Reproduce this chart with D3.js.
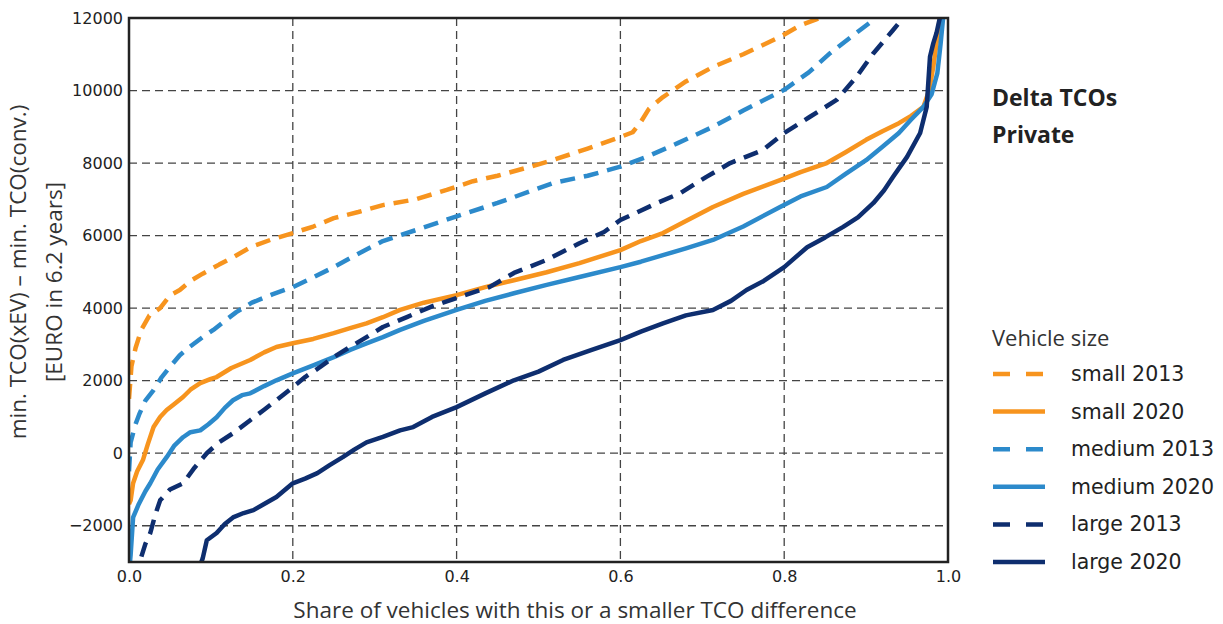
<!DOCTYPE html>
<html>
<head>
<meta charset="utf-8">
<script src="https://cdn.jsdelivr.net/npm/d3@7"></script>
<style>
  body { margin: 0; background: #fff; }
  .tick-label { font-family: "DejaVu Sans", sans-serif; font-size: 16px; fill: #222; }
  .axis-title { font-family: "Open Sans", sans-serif; font-size: 22.5px; fill: #333; }
  .legend-label { font-family: "DejaVu Sans", sans-serif; font-size: 20.5px; fill: #222; }
</style>
</head>
<body>
<div id="chart"></div>
<script>
(function() {
  // data: [share, delta TCO in EUR]
  var small2013 = [[0,1500],[0.003,2400],[0.008,2900],[0.015,3400],[0.025,3800],[0.038,4000],[0.05,4350],[0.062,4500],[0.075,4750],[0.09,4950],[0.11,5200],[0.127,5400],[0.15,5700],[0.175,5900],[0.2,6070],[0.225,6250],[0.25,6480],[0.28,6650],[0.31,6840],[0.35,7000],[0.388,7260],[0.42,7500],[0.45,7650],[0.49,7900],[0.52,8100],[0.56,8400],[0.6,8720],[0.615,8850],[0.624,9100],[0.635,9500],[0.652,9820],[0.68,10250],[0.713,10650],[0.75,11000],[0.795,11480],[0.82,11800],[0.847,12030],[0.87,12300]]
  var small2020 = [[0,-1400],[0.002,-1300],[0.005,-830],[0.01,-500],[0.017,-190],[0.023,250],[0.03,720],[0.038,1000],[0.046,1190],[0.055,1350],[0.066,1550],[0.075,1750],[0.087,1930],[0.1,2050],[0.107,2100],[0.125,2350],[0.148,2570],[0.165,2780],[0.18,2930],[0.2,3030],[0.225,3150],[0.25,3310],[0.27,3450],[0.29,3580],[0.31,3750],[0.331,3950],[0.36,4150],[0.4,4360],[0.435,4580],[0.47,4770],[0.51,4990],[0.55,5240],[0.6,5600],[0.625,5850],[0.652,6070],[0.68,6400],[0.713,6790],[0.75,7150],[0.795,7530],[0.82,7750],[0.852,8000],[0.875,8300],[0.9,8640],[0.92,8880],[0.94,9100],[0.955,9300],[0.97,9550],[0.977,10000],[0.982,10650],[0.986,11300],[0.99,12000],[0.993,12500]]
  var medium2013 = [[0,-500],[0.002,300],[0.008,800],[0.013,1100],[0.02,1450],[0.03,1740],[0.04,2100],[0.05,2380],[0.062,2700],[0.074,2930],[0.09,3200],[0.103,3400],[0.117,3650],[0.131,3890],[0.15,4150],[0.175,4380],[0.2,4580],[0.225,4850],[0.25,5130],[0.28,5500],[0.31,5850],[0.35,6150],[0.4,6530],[0.45,6900],[0.518,7450],[0.56,7650],[0.6,7900],[0.632,8170],[0.67,8550],[0.713,9000],[0.75,9450],[0.8,10020],[0.83,10500],[0.856,11030],[0.88,11450],[0.909,11950],[0.92,12300]]
  var medium2020 = [[0,-3300],[0.002,-2800],[0.005,-1770],[0.012,-1400],[0.02,-1050],[0.026,-830],[0.035,-450],[0.046,-110],[0.055,200],[0.066,440],[0.075,580],[0.087,630],[0.097,800],[0.107,990],[0.117,1250],[0.127,1460],[0.138,1600],[0.148,1650],[0.165,1850],[0.18,2010],[0.2,2200],[0.225,2420],[0.25,2650],[0.27,2850],[0.29,3030],[0.31,3200],[0.331,3400],[0.36,3650],[0.4,3950],[0.435,4200],[0.47,4410],[0.51,4640],[0.55,4860],[0.6,5130],[0.625,5280],[0.652,5460],[0.68,5650],[0.713,5880],[0.75,6250],[0.795,6790],[0.82,7080],[0.852,7340],[0.875,7700],[0.9,8080],[0.92,8450],[0.94,8830],[0.955,9200],[0.97,9550],[0.98,9900],[0.987,10480],[0.991,11300],[0.994,12000],[0.996,12500]]
  var large2013 = [[0.01,-3500],[0.013,-3000],[0.02,-2500],[0.026,-2200],[0.032,-1700],[0.038,-1300],[0.05,-1000],[0.066,-830],[0.08,-400],[0.095,0],[0.11,300],[0.127,550],[0.148,910],[0.165,1200],[0.18,1460],[0.2,1820],[0.215,2100],[0.233,2370],[0.25,2650],[0.27,2930],[0.29,3200],[0.31,3480],[0.34,3760],[0.37,4050],[0.4,4280],[0.44,4580],[0.47,4970],[0.51,5330],[0.55,5790],[0.58,6100],[0.6,6430],[0.645,6900],[0.673,7170],[0.705,7620],[0.734,8000],[0.774,8360],[0.8,8830],[0.831,9270],[0.864,9740],[0.888,10370],[0.909,11030],[0.933,11670],[0.945,12000],[0.955,12300]]
  var large2020 = [[0.085,-3200],[0.09,-2900],[0.095,-2400],[0.107,-2200],[0.117,-1950],[0.127,-1770],[0.14,-1650],[0.152,-1570],[0.165,-1400],[0.18,-1210],[0.2,-830],[0.215,-700],[0.23,-550],[0.245,-330],[0.261,-110],[0.275,100],[0.29,300],[0.31,450],[0.331,630],[0.347,720],[0.37,1000],[0.4,1270],[0.435,1650],[0.47,2010],[0.5,2250],[0.53,2570],[0.565,2850],[0.6,3120],[0.625,3350],[0.652,3580],[0.68,3800],[0.713,3950],[0.735,4200],[0.754,4500],[0.775,4750],[0.8,5130],[0.828,5680],[0.85,5950],[0.872,6240],[0.89,6500],[0.909,6900],[0.922,7250],[0.933,7620],[0.95,8170],[0.966,8830],[0.974,9550],[0.978,10930],[0.982,11300],[0.986,11590],[0.99,12000],[0.992,12400]]

  var seriesNames = ['small 2013', 'small 2020', 'medium 2013', 'medium 2020', 'large 2013', 'large 2020']
  var seriesValues = [small2013, small2020, medium2013, medium2020, large2013, large2020]
  var seriesColors = ['#F7941E', '#F7941E', '#2C8ACB', '#2C8ACB', '#0E2E6F', '#0E2E6F']
  var seriesDashed = [true, false, true, false, true, false]

  var xTicks = [0, 0.2, 0.4, 0.6, 0.8, 1.0]
  var yTicks = [-2000, 0, 2000, 4000, 6000, 8000, 10000, 12000]

  var margin = {top: 18, right: 275, bottom: 62, left: 129}
  var width = 1223 - margin.left - margin.right
  var height = 624 - margin.top - margin.bottom

  var xPositionScale = d3.scaleLinear().domain([0, 1]).range([0, width])
  var yPositionScale = d3.scaleLinear().domain([-3000, 12000]).range([height, 0])

  var root = d3.select('#chart')
    .append('svg')
    .attr('width', 1223)
    .attr('height', 624)

  var svg = root.append('g')
    .attr('transform', 'translate(' + margin.left + ',' + margin.top + ')')

  svg.append('clipPath')
    .attr('id', 'plot-clip')
    .append('rect')
    .attr('width', width)
    .attr('height', height)

  // grid
  svg.append('g')
    .attr('class', 'grid')
    .selectAll('line.h')
    .data(yTicks.filter(d => d < 12000))
    .enter().append('line')
    .attr('x1', 0).attr('x2', width)
    .attr('y1', d => yPositionScale(d)).attr('y2', d => yPositionScale(d))
    .attr('stroke', '#444').attr('stroke-width', 1.3).attr('stroke-dasharray', '8,5')

  svg.append('g')
    .attr('class', 'grid')
    .selectAll('line.v')
    .data(xTicks.filter(d => d > 0 && d < 1))
    .enter().append('line')
    .attr('y1', 0).attr('y2', height)
    .attr('x1', d => xPositionScale(d)).attr('x2', d => xPositionScale(d))
    .attr('stroke', '#444').attr('stroke-width', 1.3).attr('stroke-dasharray', '8,5')

  var line = d3.line()
    .x(d => xPositionScale(d[0]))
    .y(d => yPositionScale(d[1]))

  svg.append('g')
    .attr('clip-path', 'url(#plot-clip)')
    .selectAll('path')
    .data(seriesValues)
    .enter().append('path')
    .attr('d', line)
    .attr('fill', 'none')
    .attr('stroke', (d, i) => seriesColors[i])
    .attr('stroke-width', 4.5)
    .attr('stroke-linejoin', 'round')
    .attr('stroke-dasharray', (d, i) => seriesDashed[i] ? '15,9' : null)

  // frame
  svg.append('rect')
    .attr('width', width)
    .attr('height', height)
    .attr('fill', 'none')
    .attr('stroke', '#222')
    .attr('stroke-width', 2.5)

  // axes, only the labels
  var yAxis = d3.axisLeft(yPositionScale)
    .tickValues(yTicks)
    .tickSize(0)
    .tickPadding(6)
    .tickFormat(d => d < 0 ? '\u2212' + Math.abs(d) : String(d))
  svg.append('g')
    .attr('class', 'axis axis-y')
    .call(yAxis)
    .call(g => g.select('.domain').remove())
    .selectAll('text').attr('class', 'tick-label').attr('fill', null)

  var xAxis = d3.axisBottom(xPositionScale)
    .tickValues(xTicks)
    .tickSize(0)
    .tickPadding(9)
    .tickFormat(d3.format('.1f'))
  svg.append('g')
    .attr('class', 'axis axis-x')
    .attr('transform', 'translate(0,' + height + ')')
    .call(xAxis)
    .call(g => g.select('.domain').remove())
    .selectAll('text').attr('class', 'tick-label').attr('fill', null)

  // axis titles
  root.append('text')
    .attr('class', 'axis-title')
    .attr('text-anchor', 'middle')
    .attr('x', 575)
    .attr('y', 618)
    .text('Share of vehicles with this or a smaller TCO difference')

  root.append('text')
    .attr('class', 'axis-title')
    .attr('text-anchor', 'middle')
    .attr('transform', 'translate(26,272) rotate(-90)')
    .text('min. TCO(xEV) \u2013 min. TCO(conv.)')

  root.append('text')
    .attr('class', 'axis-title')
    .attr('text-anchor', 'middle')
    .attr('transform', 'translate(62,282) rotate(-90)')
    .text('[EURO in 6.2 years]')

  // title
  root.append('text')
    .attr('x', 992).attr('y', 106)
    .attr('font-family', 'Open Sans, sans-serif')
    .attr('font-weight', 'bold')
    .attr('font-size', 23)
    .attr('fill', '#222')
    .text('Delta TCOs')
  root.append('text')
    .attr('x', 992).attr('y', 143)
    .attr('font-family', 'Open Sans, sans-serif')
    .attr('font-weight', 'bold')
    .attr('font-size', 23)
    .attr('fill', '#222')
    .text('Private')

  // legend
  var legend = root.append('g').attr('class', 'legend')
  legend.append('text')
    .attr('class', 'axis-title')
    .attr('font-size', 22)
    .style('font-size', '22px')
    .attr('x', 992).attr('y', 346)
    .text('Vehicle size')

  var items = legend.selectAll('.item')
    .data(seriesNames)
    .enter().append('g')
    .attr('class', 'item')
    .attr('transform', (d, i) => 'translate(0,' + (374 + i * 37.6) + ')')

  items.append('line')
    .attr('x1', 993).attr('x2', 1045)
    .attr('stroke', (d, i) => seriesColors[i])
    .attr('stroke-width', 4.5)
    .attr('stroke-dasharray', (d, i) => seriesDashed[i] ? '17,16' : null)

  items.append('text')
    .attr('class', 'legend-label')
    .attr('x', 1071)
    .attr('y', 7)
    .text(d => d)
})()
</script>
</body>
</html>
